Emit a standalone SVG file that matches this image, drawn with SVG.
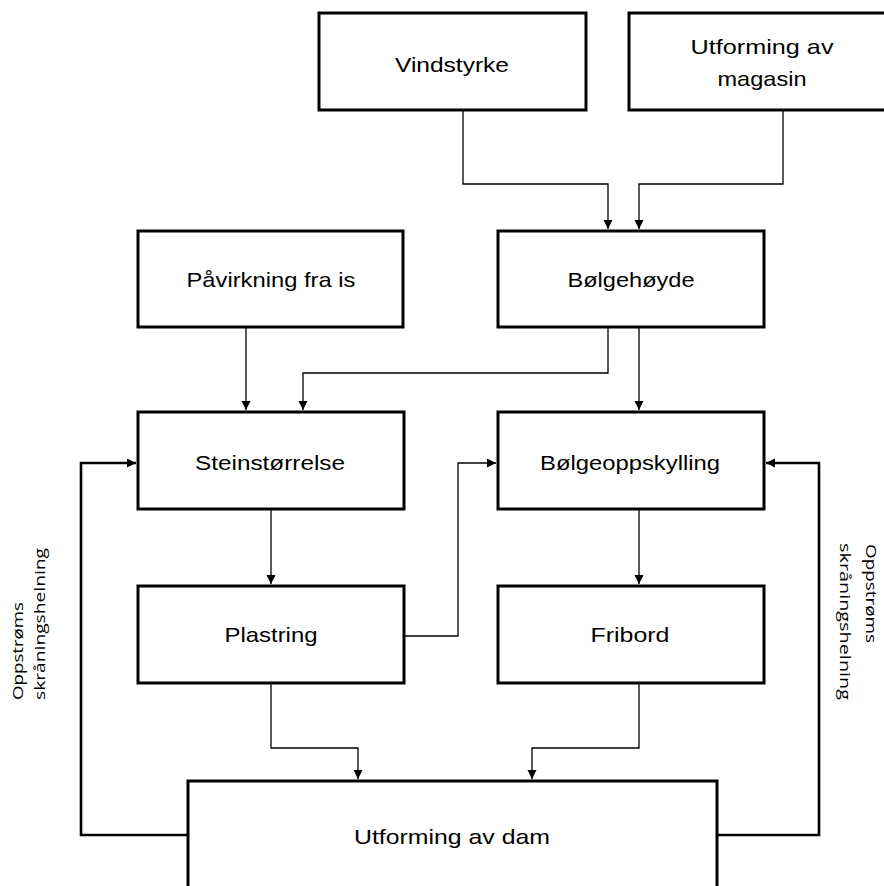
<svg xmlns="http://www.w3.org/2000/svg" width="884" height="886" viewBox="0 0 884 886">
<defs>
<style>
.box{fill:#fff;stroke:#000;stroke-width:3}
.lbl{font-family:"Liberation Sans",Arial,sans-serif;font-size:21px;fill:#000;text-anchor:middle}
.side{font-family:"Open Sans","Liberation Sans",sans-serif;font-size:15px;fill:#000}
.c{fill:none;stroke:#000;stroke-width:1.3}
.fb{fill:none;stroke:#000;stroke-width:2.6}
</style>
<marker id="ah" markerUnits="userSpaceOnUse" markerWidth="10" markerHeight="10" refX="9" refY="4.5" orient="auto">
<path d="M0,0 L9,4.5 L0,9 z" fill="#000"/>
</marker>
</defs>
<rect width="884" height="886" fill="#fff"/>
<g id="connectors">
<path class="c" d="M463 110 V184 H608 V229" marker-end="url(#ah)"/>
<path class="c" d="M783 110 V184 H639 V229" marker-end="url(#ah)"/>
<path class="c" d="M246 327 V410" marker-end="url(#ah)"/>
<path class="c" d="M608 327 V373 H303 V410" marker-end="url(#ah)"/>
<path class="c" d="M639 327 V410" marker-end="url(#ah)"/>
<path class="c" d="M271 509 V584" marker-end="url(#ah)"/>
<path class="c" d="M639 509 V584" marker-end="url(#ah)"/>
<path class="c" d="M404 636 H458 V463 H496" marker-end="url(#ah)"/>
<path class="c" d="M271 683 V748 H358 V779" marker-end="url(#ah)"/>
<path class="c" d="M639 683 V748 H532 V779" marker-end="url(#ah)"/>
<path class="fb" d="M188 835 H81 V463 H136" marker-end="url(#ah)"/>
<path class="fb" d="M717 835 H819 V463 H766" marker-end="url(#ah)"/>
</g>
<g id="vindstyrke"><rect class="box" x="319" y="13" width="267" height="97"/><text class="lbl" x="452" y="72" textLength="114" lengthAdjust="spacingAndGlyphs">Vindstyrke</text></g>
<g id="magasin"><rect class="box" x="629" y="13" width="267" height="97"/><text class="lbl" x="762" y="54" textLength="143" lengthAdjust="spacingAndGlyphs">Utforming av</text><text class="lbl" x="762" y="86" textLength="89" lengthAdjust="spacingAndGlyphs">magasin</text></g>
<g id="pavirkning"><rect class="box" x="138" y="231" width="265" height="96"/><text class="lbl" x="271" y="287" textLength="169" lengthAdjust="spacingAndGlyphs">Påvirkning fra is</text></g>
<g id="bolgehoyde"><rect class="box" x="498" y="231" width="266" height="96"/><text class="lbl" x="631" y="287" textLength="127" lengthAdjust="spacingAndGlyphs">Bølgehøyde</text></g>
<g id="steinstorrelse"><rect class="box" x="138" y="412" width="266" height="97"/><text class="lbl" x="270" y="470" textLength="150" lengthAdjust="spacingAndGlyphs">Steinstørrelse</text></g>
<g id="bolgeoppskylling"><rect class="box" x="498" y="412" width="266" height="97"/><text class="lbl" x="630" y="470" textLength="180" lengthAdjust="spacingAndGlyphs">Bølgeoppskylling</text></g>
<g id="plastring"><rect class="box" x="138" y="586" width="266" height="97"/><text class="lbl" x="271" y="642" textLength="93" lengthAdjust="spacingAndGlyphs">Plastring</text></g>
<g id="fribord"><rect class="box" x="498" y="586" width="266" height="97"/><text class="lbl" x="630" y="642" textLength="79" lengthAdjust="spacingAndGlyphs">Fribord</text></g>
<g id="dam"><rect class="box" x="188" y="781" width="529" height="115"/><text class="lbl" x="452" y="844" textLength="196" lengthAdjust="spacingAndGlyphs">Utforming av dam</text></g>
<g id="label-left">
<text class="side" transform="translate(22.5,700) rotate(-90)" textLength="98" lengthAdjust="spacingAndGlyphs">Oppstrøms</text>
<text class="side" transform="translate(45,700) rotate(-90)" textLength="152" lengthAdjust="spacingAndGlyphs">skråningshelning</text>
</g>
<g id="label-right">
<text class="side" transform="translate(866,544) rotate(90)" textLength="99" lengthAdjust="spacingAndGlyphs">Oppstrøms</text>
<text class="side" transform="translate(839.5,543) rotate(90)" textLength="157" lengthAdjust="spacingAndGlyphs">skråningshelning</text>
</g>
</svg>
